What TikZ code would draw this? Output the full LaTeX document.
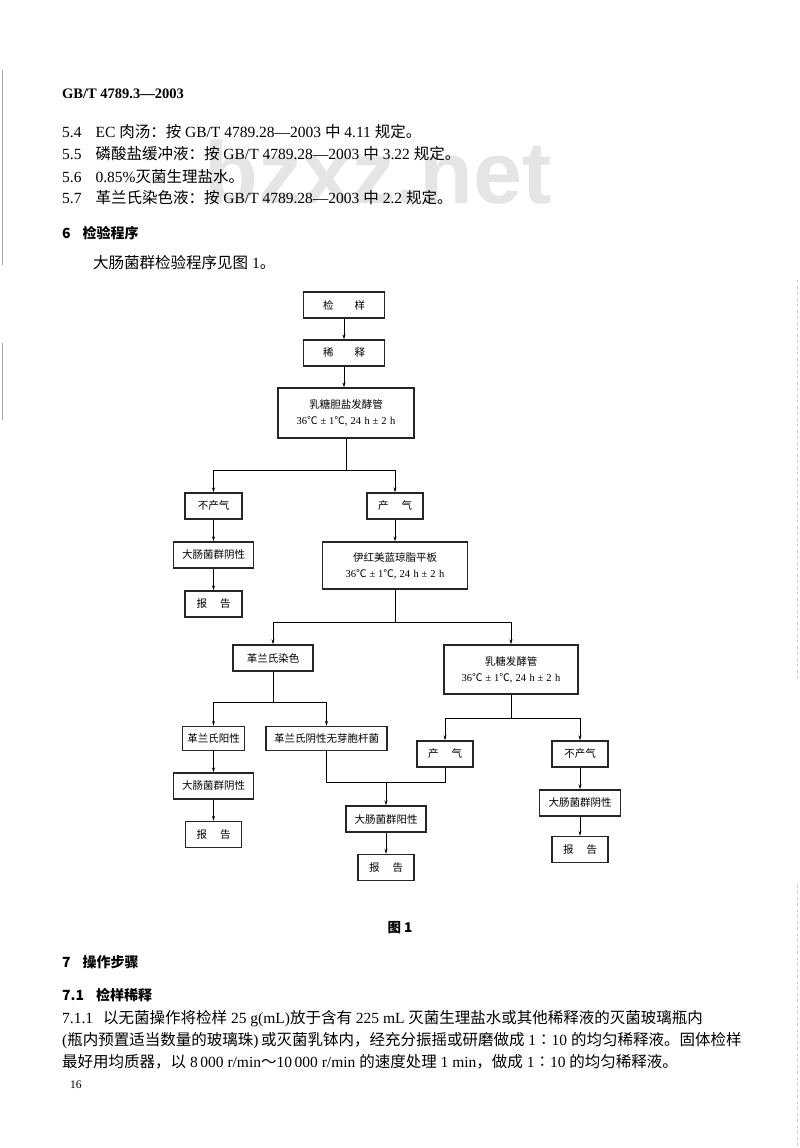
\documentclass[tikz,border=0pt]{standalone}
\usepackage{fontspec}
\setmainfont{Liberation Serif}
\newfontfamily\zh{Noto Sans CJK SC}
\newfontfamily\wmfont{Liberation Sans}
\usetikzlibrary{arrows.meta, positioning}

% incubation condition line
\newcommand{\incub}{{\rmfamily 36{\zh ℃}\;±\;1{\zh ℃},\;24\,\,h\;±\;2\,\,h}}

\begin{document}
\begin{tikzpicture}[
		x=1pt, y=-1pt,
		% Styles
		flowBox/.style={draw=black!85, line width=1.4pt, inner sep=0pt, align=center, minimum height=26pt, font=\zh\fontsize{10.5}{14}\selectfont},
		flowArrow/.style={-{Stealth[length=5pt, width=3pt]}, line width=0.7pt},
		flowLine/.style={line width=0.7pt},
		bodyText/.style={anchor=base west, inner sep=0pt, font=\fontsize{15.5}{18}\selectfont},
		headText/.style={anchor=base west, inner sep=0pt, font=\zh\bfseries\fontsize{14}{16}\selectfont},
		scanMark/.style={draw=black!35, line width=1pt}
		]
		
		\useasboundingbox (0,0) rectangle (800,1148);
		\fill[white] (0,0) rectangle (800,1148);
		
		% =========================================================
		% 1. PAGE TEXT (top)
		% =========================================================
		\node[anchor=base, inner sep=0pt, font=\wmfont\bfseries\fontsize{88}{88}\selectfont, text=black!10] (Watermark) at (378,203) {bzxz.net};
		
		\node[bodyText, font=\bfseries\fontsize{14.5}{16}\selectfont] (Header) at (62,98) {GB/T 4789.3—2003};
		
		\node[bodyText] (Item54) at (62,137) {5.4\hspace{14pt}EC {\zh 肉汤：按} GB/T 4789.28—2003 {\zh 中} 4.11 {\zh 规定。}};
		\node[bodyText] (Item55) at (62,159) {5.5\hspace{14pt}{\zh 磷酸盐缓冲液：按} GB/T 4789.28—2003 {\zh 中} 3.22 {\zh 规定。}};
		\node[bodyText] (Item56) at (62,182) {5.6\hspace{14pt}0.85\%{\zh 灭菌生理盐水。}};
		\node[bodyText] (Item57) at (62,203) {5.7\hspace{14pt}{\zh 革兰氏染色液：按} GB/T 4789.28—2003 {\zh 中} 2.2 {\zh 规定。}};
		
		\node[headText] (Sec6) at (62,238) {6\hspace{12pt}检验程序};
		\node[bodyText] (Sec6Text) at (93,268) {{\zh 大肠菌群检验程序见图} 1{\zh 。}};
		
		% =========================================================
		% 2. FLOW CHART BOXES
		% =========================================================
		\node[flowBox, minimum width=81pt] (Sample) at (344,305) {检\hspace{21pt}样};
		\node[flowBox, minimum width=81pt] (Dilute) at (344,353) {稀\hspace{21pt}释};
		\node[flowBox, minimum width=136pt, minimum height=50pt] (LSTube) at (346,413) {乳糖胆盐发酵管\\[2pt]\incub};
		
		\node[flowBox, minimum width=57pt] (NoGasA) at (213.5,506) {不产气};
		\node[flowBox, minimum width=56pt] (GasA) at (395,506) {产\hspace{13pt}气};
		\node[flowBox, minimum width=80pt] (NegA) at (213.5,555) {大肠菌群阴性};
		\node[flowBox, minimum width=57pt] (ReportA) at (213.5,604) {报\hspace{13pt}告};
		\node[flowBox, minimum width=145pt, minimum height=47pt] (EMBPlate) at (395,565.5) {伊红美蓝琼脂平板\\[2pt]\incub};
		
		\node[flowBox, minimum width=80pt] (GramStain) at (273,658) {革兰氏染色};
		\node[flowBox, minimum width=134pt, minimum height=49pt] (LacTube) at (511,669.5) {乳糖发酵管\\[2pt]\incub};
		
		\node[flowBox, minimum width=62pt, minimum height=24pt] (GramPos) at (213.5,738.5) {革兰氏阳性};
		\node[flowBox, minimum width=121pt, minimum height=24pt] (GramNeg) at (326.5,738.5) {革兰氏阴性无芽胞杆菌};
		\node[flowBox, minimum width=56pt] (GasB) at (445,754) {产\hspace{13pt}气};
		\node[flowBox, minimum width=56pt] (NoGasB) at (580,754) {不产气};
		
		\node[flowBox, minimum width=80pt] (NegB) at (213.5,786) {大肠菌群阴性};
		\node[flowBox, minimum width=56pt] (ReportB) at (213.5,834.5) {报\hspace{13pt}告};
		\node[flowBox, minimum width=80pt] (PosC) at (386,819) {大肠菌群阳性};
		\node[flowBox, minimum width=56pt] (ReportC) at (386,867.5) {报\hspace{13pt}告};
		\node[flowBox, minimum width=81pt] (NegD) at (580,803) {大肠菌群阴性};
		\node[flowBox, minimum width=56pt] (ReportD) at (580,849.5) {报\hspace{13pt}告};
		
		% =========================================================
		% 3. CONNECTORS
		% =========================================================
		\coordinate (SplitLS) at (346,470);
		\coordinate (SplitEMB) at (395,622);
		\coordinate (SplitGram) at (273,702);
		\coordinate (SplitLac) at (511,718);
		\coordinate (MergePos) at (386,782);
		
		\draw[flowArrow] (Sample) -- (Dilute);
		\draw[flowArrow] (Dilute.south -| Sample) -- (LSTube.north -| Sample);
		\draw[flowLine] (LSTube) -- (SplitLS);
		\draw[flowArrow] (SplitLS) -| (NoGasA);
		\draw[flowArrow] (SplitLS) -| (GasA);
		\draw[flowArrow] (NoGasA) -- (NegA);
		\draw[flowArrow] (NegA) -- (ReportA);
		\draw[flowArrow] (GasA) -- (EMBPlate);
		
		\draw[flowLine] (EMBPlate) -- (SplitEMB);
		\draw[flowArrow] (SplitEMB) -| (GramStain);
		\draw[flowArrow] (SplitEMB) -| (LacTube);
		
		\draw[flowLine] (GramStain) -- (SplitGram);
		\draw[flowArrow] (SplitGram) -| (GramPos);
		\draw[flowArrow] (SplitGram) -| (GramNeg);
		\draw[flowArrow] (GramPos) -- (NegB);
		\draw[flowArrow] (NegB) -- (ReportB);
		
		\draw[flowLine] (LacTube) -- (SplitLac);
		\draw[flowArrow] (SplitLac) -| (GasB);
		\draw[flowArrow] (SplitLac) -| (NoGasB);
		\draw[flowArrow] (NoGasB) -- (NegD);
		\draw[flowArrow] (NegD) -- (ReportD);
		
		\draw[flowLine] (GramNeg) |- (MergePos);
		\draw[flowLine] (GasB) |- (MergePos);
		\draw[flowArrow] (MergePos) -- (PosC);
		\draw[flowArrow] (PosC) -- (ReportC);
		
		% =========================================================
		% 4. PAGE TEXT (bottom)
		% =========================================================
		\node[anchor=base, inner sep=0pt, font=\zh\bfseries\fontsize{13.5}{16}\selectfont] (Caption) at (400,932) {图 1};
		
		\node[headText] (Sec7) at (62,967) {7\hspace{12pt}操作步骤};
		\node[headText] (Sec71) at (62,1000) {7.1\hspace{12pt}检样稀释};
		\node[bodyText] (Para1) at (62,1023) {7.1.1\hspace{10pt}{\zh 以无菌操作将检样} 25 g(mL){\zh 放于含有} 225 mL {\zh 灭菌生理盐水或其他稀释液的灭菌玻璃瓶内}};
		\node[bodyText] (Para2) at (62,1045) {({\zh 瓶内预置适当数量的玻璃珠})\,{\zh 或灭菌乳钵内，经充分振摇或研磨做成} 1{\zh ∶}10 {\zh 的均匀稀释液。固体检样}};
		\node[bodyText] (Para3) at (62,1067) {{\zh 最好用均质器，以} 8\,000 r/min{\zh ～}10\,000 r/min {\zh 的速度处理} 1 min{\zh ，做成} 1{\zh ∶}10 {\zh 的均匀稀释液。}};
		\node[bodyText, font=\fontsize{11.5}{13}\selectfont] (PageNo) at (70,1088) {16};
		
		% scan marks on the page edges
		\draw[scanMark] (2.5,70) -- (2.5,265);
		\draw[scanMark] (2.5,343) -- (2.5,420);
		\draw[scanMark, dashed, draw=black!20] (797,280) -- (797,680);
		\draw[scanMark, dashed, draw=black!20] (797,885) -- (797,1148);
		
	\end{tikzpicture}
\end{document}
